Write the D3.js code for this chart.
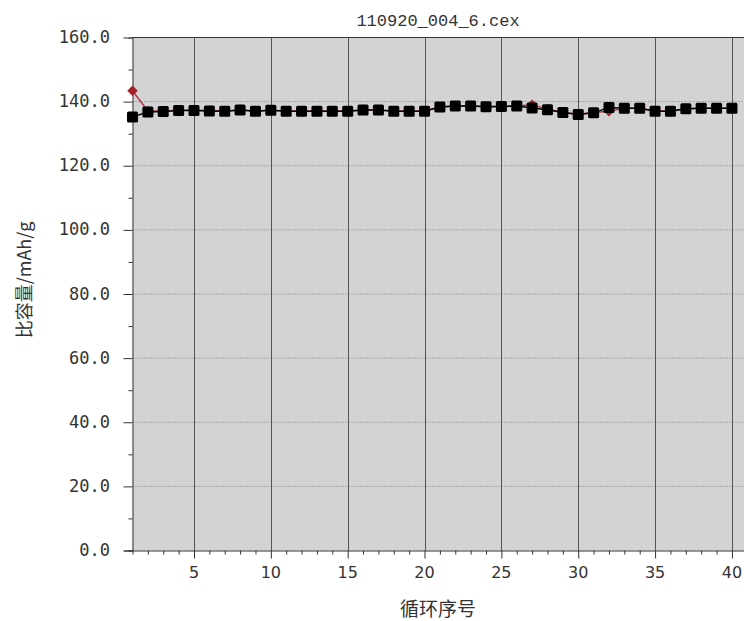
<!DOCTYPE html>
<html>
<head>
<meta charset="utf-8">
<script src="https://cdn.jsdelivr.net/npm/d3@7"></script>
<style>
  body { margin: 0; background: #fff; overflow: hidden; }
  svg { display: block; }
</style>
</head>
<body>
<svg width="744" height="621"></svg>
<script>
// cycle numbers and capacities (mAh/g)
const cycles = d3.range(1, 41);
const discharge = [135.2, 136.8, 136.9, 137.2, 137.2, 137.1, 137.0, 137.4, 137.0, 137.3,
                   137.0, 137.0, 137.0, 137.0, 137.0, 137.4, 137.4, 137.0, 137.0, 137.0,
                   138.3, 138.6, 138.6, 138.4, 138.5, 138.6, 138.0, 137.5, 136.6, 136.0,
                   136.5, 138.2, 137.9, 137.9, 137.0, 137.0, 137.8, 137.9, 137.9, 137.9];
const charge =    [143.4, 137.1, 137.1, 137.3, 137.3, 137.2, 137.1, 137.4, 137.1, 137.3,
                   137.1, 137.1, 137.1, 137.1, 137.1, 137.4, 137.4, 137.1, 137.1, 137.1,
                   138.3, 138.6, 138.6, 138.5, 138.5, 138.6, 139.0, 137.6, 136.7, 136.1,
                   136.6, 137.0, 137.9, 137.9, 137.1, 137.1, 137.8, 137.9, 137.9, 137.9];
const yTicks = [0, 20, 40, 60, 80, 100, 120, 140, 160];
const xTicks = [5, 10, 15, 20, 25, 30, 35, 40];
const title = "110920_004_6.cex";

let svg = d3.select("svg");

let x = d3.scaleLinear().domain([1, 45]).range([132.5, 132.5 + 44 * 15.37]);
let y = d3.scaleLinear().domain([0, 160]).range([550.5, 37.5]);

// plot background
svg.append("rect")
    .attr("x", x(1)).attr("y", y(160))
    .attr("width", x(45) - x(1)).attr("height", y(0) - y(160))
    .attr("fill", "#d3d3d3");

// horizontal dotted grid
svg.append("g").selectAll("line")
    .data(yTicks.filter(d => d > 0 && d < 160))
    .enter().append("line")
    .attr("x1", x(1)).attr("x2", x(45))
    .attr("y1", d => y(d)).attr("y2", d => y(d))
    .attr("stroke", "#7a7a7a")
    .attr("stroke-dasharray", "1,2");

// vertical grid
svg.append("g").selectAll("line")
    .data(xTicks)
    .enter().append("line")
    .attr("x1", d => Math.round(x(d)) + 0.5).attr("x2", d => Math.round(x(d)) + 0.5)
    .attr("y1", y(160)).attr("y2", y(0))
    .attr("stroke", "#555");

// top border
svg.append("line")
    .attr("x1", x(1)).attr("x2", x(45))
    .attr("y1", y(160)).attr("y2", y(160))
    .attr("stroke", "#333");

// y axis
let yAxis = svg.append("g")
    .attr("transform", "translate(" + x(1) + ",0)")
    .call(d3.axisLeft(y).tickValues(d3.range(0, 161, 10)).tickSize(4).tickFormat(""));
yAxis.selectAll(".tick line")
    .attr("x2", d => d % 20 === 0 ? -9 : -4)
    .attr("stroke", "#333");
yAxis.select(".domain").attr("stroke", "#333");

svg.append("g").selectAll("text")
    .data(yTicks)
    .enter().append("text")
    .attr("x", 110).attr("y", d => y(d) + 5.5)
    .attr("text-anchor", "end")
    .attr("font-family", "DejaVu Sans Mono")
    .attr("font-size", 17)
    .attr("fill", "#333")
    .text(d => d.toFixed(1));

// x axis
let xAxis = svg.append("g")
    .attr("transform", "translate(0," + y(0) + ")")
    .call(d3.axisBottom(x).tickValues(d3.range(1, 46)).tickSize(4).tickFormat(""));
xAxis.selectAll(".tick line")
    .attr("y2", d => d % 5 === 0 ? 8 : 4)
    .attr("stroke", "#333");
xAxis.select(".domain").attr("d", "M124," + 0.5 + "H" + x(45)).attr("stroke", "#333");

svg.append("g").selectAll("text")
    .data(xTicks)
    .enter().append("text")
    .attr("x", d => x(d)).attr("y", 578)
    .attr("text-anchor", "middle")
    .attr("font-family", "DejaVu Sans")
    .attr("font-size", 16)
    .attr("fill", "#333")
    .text(d => d);

// charge series (red diamonds)
let line = d3.line().x((d, i) => x(cycles[i])).y(d => y(d));
svg.append("path")
    .datum(charge)
    .attr("d", line)
    .attr("fill", "none")
    .attr("stroke", "#b03a44")
    .attr("stroke-width", 1.5);
svg.append("g").selectAll("path")
    .data(charge)
    .enter().append("path")
    .attr("d", d3.symbol().type(d3.symbolDiamond2).size(70))
    .attr("transform", (d, i) => "translate(" + x(cycles[i]) + "," + y(d) + ")")
    .attr("fill", "#a3202c");

// discharge series (black squares)
svg.append("path")
    .datum(discharge)
    .attr("d", line)
    .attr("fill", "none")
    .attr("stroke", "#000")
    .attr("stroke-width", 1.5);
svg.append("g").selectAll("rect")
    .data(discharge)
    .enter().append("rect")
    .attr("x", (d, i) => x(cycles[i]) - 5.5)
    .attr("y", d => y(d) - 5.5)
    .attr("width", 11).attr("height", 11)
    .attr("rx", 1.5)
    .attr("fill", "#000");

// titles
svg.append("text")
    .attr("x", 438).attr("y", 26)
    .attr("text-anchor", "middle")
    .attr("font-family", "Liberation Mono")
    .attr("font-size", 17)
    .attr("fill", "#333")
    .text(title);

svg.append("text")
    .attr("x", 438).attr("y", 616)
    .attr("text-anchor", "middle")
    .attr("font-family", "Noto Sans CJK SC")
    .attr("font-size", 19)
    .attr("fill", "#333")
    .text("循环序号");

svg.append("text")
    .attr("transform", "translate(31,280) rotate(-90)")
    .attr("text-anchor", "middle")
    .attr("font-family", "Noto Sans CJK SC")
    .attr("font-size", 18)
    .attr("fill", "#333")
    .text("比容量/mAh/g");
</script>
</body>
</html>
